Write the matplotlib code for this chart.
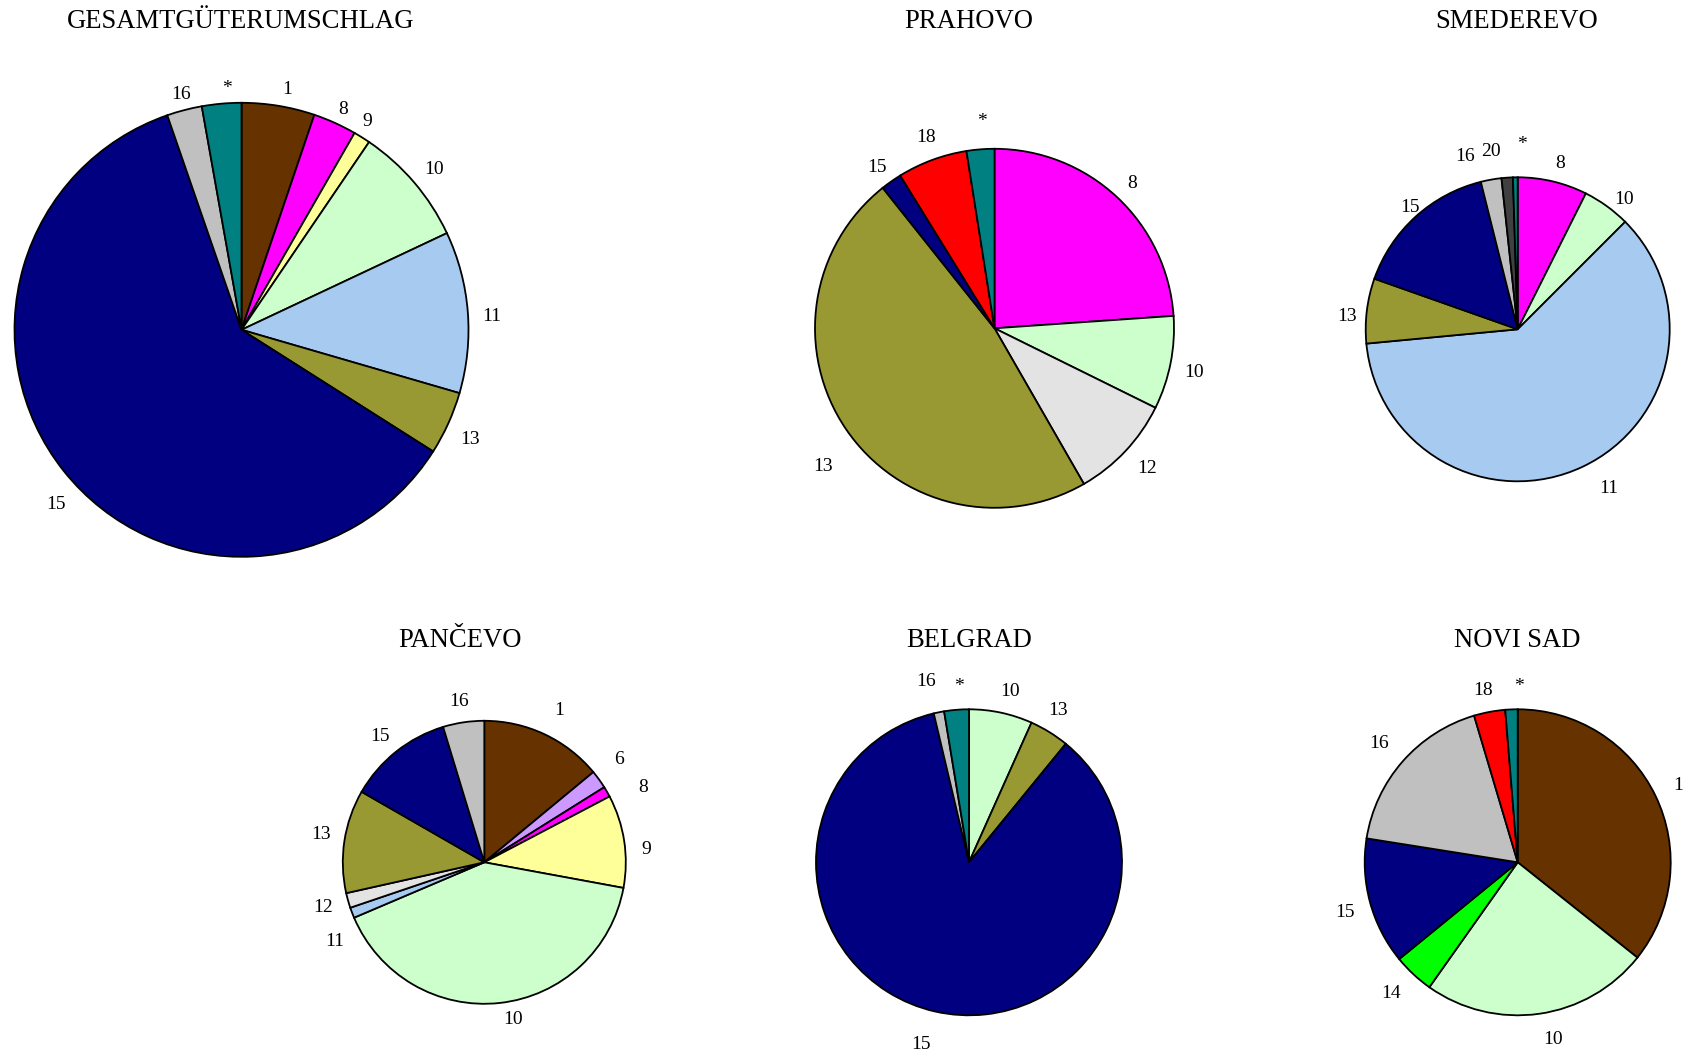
import matplotlib
matplotlib.use("Agg")
import matplotlib.pyplot as plt

# ---------------- data ----------------
gesamt_labels = ['1', '8', '9', '10', '11', '13', '15', '16', '*']
gesamt_values = [5.2, 3.1, 1.2, 8.5, 11.5, 4.5, 60.7, 2.5, 2.8]

prahovo_labels = ['8', '10', '12', '13', '15', '18', '*']
prahovo_values = [23.9, 8.4, 9.4, 47.6, 1.9, 6.3, 2.5]

smederevo_labels = ['8', '10', '11', '13', '15', '16', '20', '*']
smederevo_values = [7.4, 5.1, 61.0, 6.9, 15.7, 2.2, 1.2, 0.5]

pancevo_labels = ['1', '6', '8', '9', '10', '11', '12', '13', '15', '16']
pancevo_values = [14.0, 2.1, 1.2, 10.6, 40.7, 1.2, 1.7, 11.8, 12.0, 4.7]

belgrad_labels = ['10', '13', '15', '16', '*']
belgrad_values = [6.7, 4.2, 85.4, 1.1, 2.6]

novisad_labels = ['1', '10', '14', '15', '16', '18', '*']
novisad_values = [35.7, 24.1, 4.3, 13.4, 17.9, 3.3, 1.3]

titles = ['GESAMTGÜTERUMSCHLAG', 'PRAHOVO', 'SMEDEREVO', 'PANČEVO', 'BELGRAD', 'NOVI SAD']

# ---------------- styles ----------------
COLORS = {
    '1': '#663300', '6': '#CC99FF', '8': '#FF00FF', '9': '#FFFF99',
    '10': '#CCFFCC', '11': '#A6CAF0', '12': '#E3E3E3', '13': '#999933',
    '14': '#00FF00', '15': '#000080', '16': '#C0C0C0', '18': '#FF0000',
    '20': '#404040', '*': '#008080',
}

W, H = 1688, 1056
# pie centre (px), radius (px), title centre x (px), title baseline y (px)
LAYOUT = [
    dict(c=(241.5, 329.8), r=227, tx=240.5, ty=28.5),
    dict(c=(994.5, 328.3), r=179.5, tx=968.5, ty=28.5),
    dict(c=(1517.7, 329.3), r=152, tx=1517, ty=28.5),
    dict(c=(484.3, 862.3), r=141.5, tx=459.5, ty=647),
    dict(c=(969, 862.3), r=153, tx=969, ty=647),
    dict(c=(1517.7, 862.3), r=153, tx=1517.5, ty=647),
]

# label text centres, in units of the pie radius
LABEL_POS = [
    [(0.199, 1.057), (0.449, 0.970), (0.556, 0.918), (0.849, 0.705), (1.103, 0.057),
     (1.008, -0.482), (-0.818, -0.768), (-0.267, 1.038), (-0.063, 1.065)],
    [(0.768, 0.804), (1.111, -0.248), (0.852, -0.779), (-0.954, -0.771),
     (-0.657, 0.896), (-0.379, 1.063), (-0.071, 1.152)],
    [(0.278, 1.092), (0.699, 0.855), (0.596, -1.046), (-1.125, 0.083),
     (-0.709, 0.803), (-0.347, 1.136), (-0.178, 1.168), (0.030, 1.213)],
    [(0.530, 1.076), (0.954, 0.728), (1.124, 0.527), (1.148, 0.092), (0.205, -1.110),
     (-1.055, -0.561), (-1.142, -0.318), (-1.156, 0.193), (-0.737, 0.888), (-0.177, 1.135)],
    [(0.268, 1.115), (0.580, 0.995), (-0.316, -1.194), (-0.281, 1.180), (-0.063, 1.152)],
    [(1.050, 0.499), (0.229, -1.161), (-0.828, -0.856), (-1.129, -0.327),
     (-0.905, 0.778), (-0.225, 1.126), (0.010, 1.152)],
]

plt.rcParams['font.family'] = ['Liberation Serif', 'DejaVu Serif']

fig = plt.figure(figsize=(W / 100, H / 100), dpi=100)
fig.patch.set_facecolor('white')

pies = [
    (gesamt_labels, gesamt_values),
    (prahovo_labels, prahovo_values),
    (smederevo_labels, smederevo_values),
    (pancevo_labels, pancevo_values),
    (belgrad_labels, belgrad_values),
    (novisad_labels, novisad_values),
]

K = 1.4
for i, ((labs, vals), lay) in enumerate(zip(pies, LAYOUT)):
    cx, cy = lay['c']
    r = lay['r']
    rect = [(cx - K * r) / W, 1 - (cy + K * r) / H, 2 * K * r / W, 2 * K * r / H]
    ax = fig.add_axes(rect)
    ax.pie(vals, colors=[COLORS[l] for l in labs], startangle=90, counterclock=False,
           radius=1.0, wedgeprops=dict(edgecolor='black', linewidth=1.3))
    ax.set_xlim(-K, K)
    ax.set_ylim(-K, K)
    ax.set_aspect('equal')
    ax.axis('off')
    for lab, (lx, ly) in zip(labs, LABEL_POS[i]):
        ax.text(lx, ly, lab, ha='center', va='center', fontsize=14, color='black',
                clip_on=False)
    fig.text(lay['tx'] / W, 1 - lay['ty'] / H, titles[i], ha='center', va='baseline',
             fontsize=19.2, color='black')

fig.savefig('out.png', dpi=100, facecolor='white')
